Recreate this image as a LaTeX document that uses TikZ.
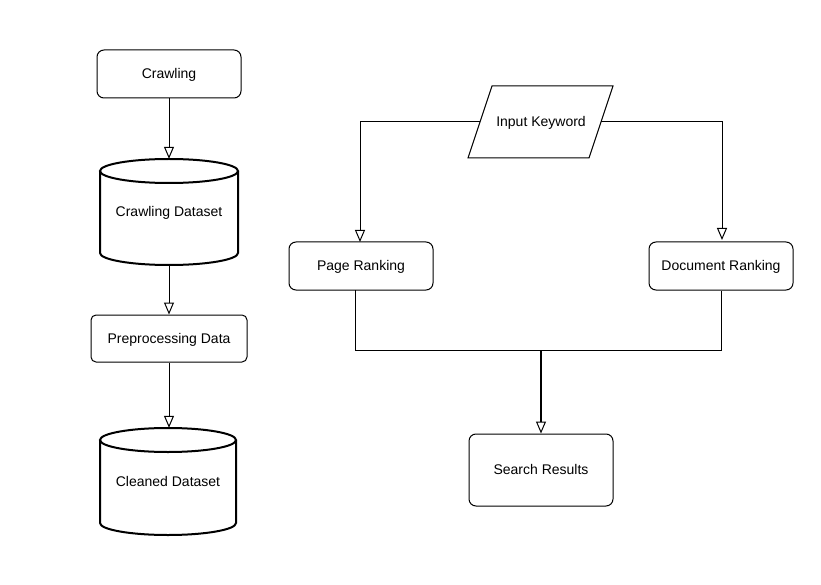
\documentclass[tikz,border=0pt]{standalone}
\usepackage{fontspec}
\setmainfont{Liberation Sans}
\usetikzlibrary{arrows.meta}
\tikzset{
  txt/.style={font=\fontsize{14}{16}\selectfont, text height=10pt, text depth=1pt},
  box/.style={draw=black, line width=1pt, rounded corners=7pt, fill=white, inner sep=0pt, txt},
  cylbox/.style={inner sep=0pt, txt},
  cylline/.style={draw=black, line width=2pt},
  conn/.style={draw=black, line width=1pt, -{Triangle[length=12pt,width=10pt,fill=white,line width=1pt]}},
  plain/.style={draw=black, line width=1pt},
}
\begin{document}
\begin{tikzpicture}[x=1pt,y=-1pt]
\useasboundingbox (0,0) rectangle (821,585);
\fill[white] (0,0) rectangle (821,585);

% left column
\node[box, minimum width=144pt, minimum height=48pt] (crawl) at (169,74) {Crawling};

% Crawling Dataset cylinder
\node[cylbox, minimum width=138pt, minimum height=106pt] (cds) at (169,212) {Crawling Dataset};
\draw[cylline] (169,171) ellipse [x radius=69pt, y radius=12pt];
\draw[cylline] (100,171) -- (100,253) arc[start angle=180, end angle=360, x radius=69pt, y radius=12pt] -- (238,171);

\node[box, rounded corners=5pt, minimum width=156pt, minimum height=47pt] (prep) at (169,338.5) {Preprocessing Data};

% Cleaned Dataset cylinder
\node[cylbox, minimum width=136pt, minimum height=107pt] (clean) at (168,481.5) {Cleaned Dataset};
\draw[cylline] (168,440) ellipse [x radius=68pt, y radius=12pt];
\draw[cylline] (100,440) -- (100,523) arc[start angle=180, end angle=360, x radius=68pt, y radius=12pt] -- (236,440);

\draw[conn] (crawl.south) -- (cds.north);
\draw[conn] (cds.south) -- (prep.north);
\draw[conn] (prep.south) -- (prep.south |- clean.north);

% right side
\coordinate (ikA) at (492,86);
\coordinate (ikB) at (613,86);
\coordinate (ikC) at (589,158);
\coordinate (ikD) at (468,158);
\draw[plain, fill=white] (ikA) -- (ikB) -- (ikC) -- (ikD) -- cycle;
\node[inner sep=0pt, txt] (kw) at (541,122) {Input Keyword};
\coordinate (kwL) at (480,122);
\coordinate (kwR) at (601,122);

\node[box, minimum width=144pt, minimum height=48pt] (page) at (361,266) {Page Ranking};
\node[box, minimum width=144pt, minimum height=48pt] (doc) at (721,266) {Document Ranking};
\node[box, minimum width=144pt, minimum height=72pt] (search) at (541,470) {Search Results};

\draw[conn] (kwL) -- (360,122) -- (360,242);
\draw[conn] (kwR) -- (722,122) -- (722,240);

\coordinate (pgB) at (355,290);
\coordinate (jn) at (541,350);
\draw[plain] (pgB) -- (355,350) -- (721,350) -- (doc.south);
\draw[conn, line width=2pt] (jn) -- (search.north);
\end{tikzpicture}
\end{document}
